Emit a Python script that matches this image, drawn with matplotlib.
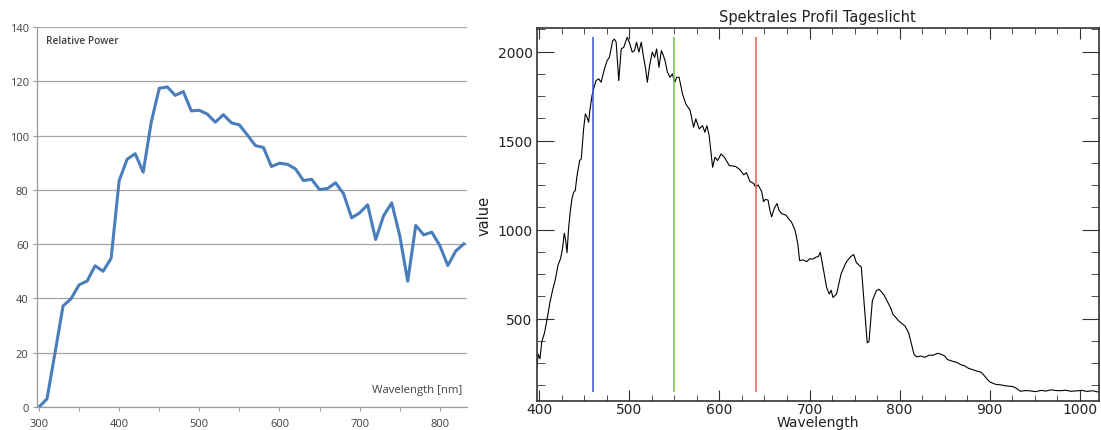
import matplotlib
matplotlib.use("Agg")
import matplotlib.pyplot as plt
from matplotlib.ticker import MultipleLocator

# left chart: relative power, one value every 10 nm
rel_wl = list(range(300, 840, 10))
rel_power = [0, 3, 20, 37.2, 39.9, 45, 46.4, 52, 50, 54.8,
             83.4, 91.3, 93.3, 86.5, 104.9, 117.4, 117.9, 114.8, 116.2, 109.1,
             109.3, 107.9, 104.9, 107.7, 104.7, 103.9, 100.2, 96.3, 95.6, 88.6,
             89.8, 89.4, 87.7, 83.4, 83.9, 80.1, 80.5, 82.6, 78.5, 69.7,
             71.5, 74.5, 61.7, 70.5, 75.2, 63.2, 46.3, 66.9, 63.4, 64.4,
             59.5, 52.1, 57.5, 60.1]
rel_xticks = [300, 400, 500, 600, 700, 800]
rel_yticks = [0, 20, 40, 60, 80, 100, 120, 140]

# right chart: daylight spectrum
spec_wl = [397, 399, 401, 403, 406, 409, 412, 415, 418, 421, 424, 426, 428, 429.5, 431,
           432.7, 434.5, 436.4, 438.3, 440.1, 442, 445, 446.8, 449.4, 451.3, 453.2, 455,
           456.1, 458.7, 460.5, 463.2, 466.1, 468.8, 472.5, 475.4, 478, 481.7, 483.5,
           485.5, 488.4, 491.1, 494, 497.8, 500.7, 503.3, 505.9, 508.1, 510.7, 513.4,
           515.6, 518.2, 520.1, 522.6, 525.6, 528.2, 530.4, 533, 535.7, 537.9, 539.7,
           542.4, 545.3, 547.9, 550.5, 552.7, 555.3, 559.1, 562.8, 567.6, 571.4, 573.9,
           577.6, 581.4, 583.9, 586.2, 588.7, 592.5, 595.1, 598.1, 601.8, 605.5, 611,
           618, 623, 627, 630, 634, 638, 640, 643, 647, 649, 651, 654, 656, 658, 661,
           664, 666, 669, 674, 677, 680, 684, 687, 689, 693, 697, 700, 704, 707, 710,
           712, 715, 719, 722, 724, 726, 730, 735, 740, 742, 746, 749, 752, 755, 757.5,
           761, 764, 766, 769.7, 774, 777, 779.4, 783, 786, 790, 792.6, 796, 799, 803,
           806, 810, 813, 816, 819, 823, 828, 833, 837, 842, 846, 850, 853, 859, 863,
           868, 872, 876, 880, 886, 890, 893, 897, 900, 903, 907, 912, 918, 925, 929,
           934, 940, 945, 951, 957, 962, 968, 973, 979, 984, 990, 996, 1002, 1008,
           1014, 1020]
spec_val = [200, 300, 275, 370, 420, 500, 590, 660, 720, 800, 840, 895, 980, 940, 870,
            1004, 1100, 1172, 1210, 1219, 1300, 1388, 1397, 1566, 1650, 1631, 1603,
            1660, 1753, 1790, 1837, 1847, 1828, 1903, 1949, 1968, 2062, 2070,
            2053, 1837, 2015, 2025, 2081, 2043, 1997, 2006, 2053, 1997, 2053,
            1978, 1903, 1828, 1922, 1997, 1968, 2015, 1912, 2006, 1978, 1949,
            1884, 1856, 1875, 1828, 1856, 1856, 1762, 1706, 1669, 1575, 1622,
            1566, 1584, 1547, 1584, 1528, 1350, 1407, 1388, 1425, 1407, 1360,
            1355, 1336, 1308, 1320, 1270, 1260, 1240, 1251, 1213, 1157, 1170, 1166, 1110, 1072, 1120,
            1147, 1110, 1090, 1081, 1060, 1043, 996, 921, 826, 830, 820, 836, 835, 845, 850,
            873, 789, 675, 638, 660, 619, 638, 751, 810, 826, 850, 860, 815, 800, 789,
            562, 364, 373, 600, 656, 665, 653, 630, 600, 560, 524, 505, 487, 470,
            458, 420, 360, 298, 285, 290, 283, 295, 294, 305, 300, 290, 270, 260, 255,
            241, 235, 222, 215, 205, 200, 185, 160, 145, 138, 130, 128, 122, 119, 110,
            92, 96, 94, 90, 97, 93, 100, 96, 95, 98, 92, 94, 97, 91,
            95, 88]
marker_wl = [460, 550, 641]
marker_colors = ["#3a55d0", "#6cc04a", "#f05a5a"]

fig = plt.figure(figsize=(11.01, 4.31), dpi=100)

# ---- left: Excel style chart
ax1 = fig.add_axes([0.0336, 0.0534, 0.3906, 0.8817])
ax1.plot(rel_wl, rel_power, color="#4a7ebb", lw=2.2, solid_joinstyle="round")
ax1.set_xlim(297.5, 834)
ax1.set_ylim(0, 140)
ax1.set_yticks(rel_yticks)
ax1.set_xticks(rel_xticks)
ax1.xaxis.set_minor_locator(MultipleLocator(50))
ax1.grid(axis="y", color="#a6a6a6", lw=0.9)
ax1.set_axisbelow(True)
for side in ["top", "right"]:
    ax1.spines[side].set_visible(False)
for side in ["left", "bottom"]:
    ax1.spines[side].set_color("#9a9a9a")
    ax1.spines[side].set_linewidth(0.9)
ax1.tick_params(axis="y", length=3, color="#9a9a9a", pad=3, labelsize=8, labelcolor="#404040")
ax1.tick_params(axis="x", which="both", length=3, color="#9a9a9a", pad=5, labelsize=8,
                labelcolor="#404040")
for lab in ax1.get_xticklabels() + ax1.get_yticklabels():
    lab.set_family("Open Sans")
ax1.text(0.02, 0.965, "Relative Power", transform=ax1.transAxes, fontsize=7.3,
         family="Open Sans", fontweight="semibold", color="#404040", va="center")
ax1.text(0.99, 0.045, "Wavelength [nm]", transform=ax1.transAxes, fontsize=8.2,
         family="Open Sans", color="#404040", ha="right", va="center")

# ---- right: IDL style plot
ax2 = fig.add_axes([0.4875, 0.068, 0.5104, 0.864])
ax2.plot(spec_wl, spec_val, color="black", lw=0.8)
vmin, vmax = min(spec_val), max(spec_val)
for wl, c in zip(marker_wl, marker_colors):
    ax2.vlines(wl, vmin, vmax, color=c, lw=1.1)
ax2.set_xlim(397.4, 1020.8)
ax2.set_ylim(39, 2131)
ax2.xaxis.set_major_locator(MultipleLocator(100))
ax2.xaxis.set_minor_locator(MultipleLocator(25))
ax2.yaxis.set_major_locator(MultipleLocator(500))
ax2.yaxis.set_minor_locator(MultipleLocator(125))
ax2.tick_params(which="both", direction="in", top=True, right=True, color="#333333",
                labelsize=10, labelcolor="#222222")
ax2.tick_params(axis="x", which="major", length=8, pad=1)
ax2.tick_params(axis="x", which="minor", length=4)
ax2.tick_params(axis="y", which="major", length=12, pad=3)
ax2.tick_params(axis="y", which="minor", length=6)
for sp in ax2.spines.values():
    sp.set_color("#333333")
    sp.set_linewidth(1.2)
ax2.set_title("Spektrales Profil Tageslicht", fontsize=10.5, color="#222222", pad=5)
ax2.set_xlabel("Wavelength", fontsize=10, color="#222222", labelpad=-1)
ax2.set_ylabel("value", fontsize=10.5, color="#222222", labelpad=4)

fig.savefig("out.png", dpi=100)
